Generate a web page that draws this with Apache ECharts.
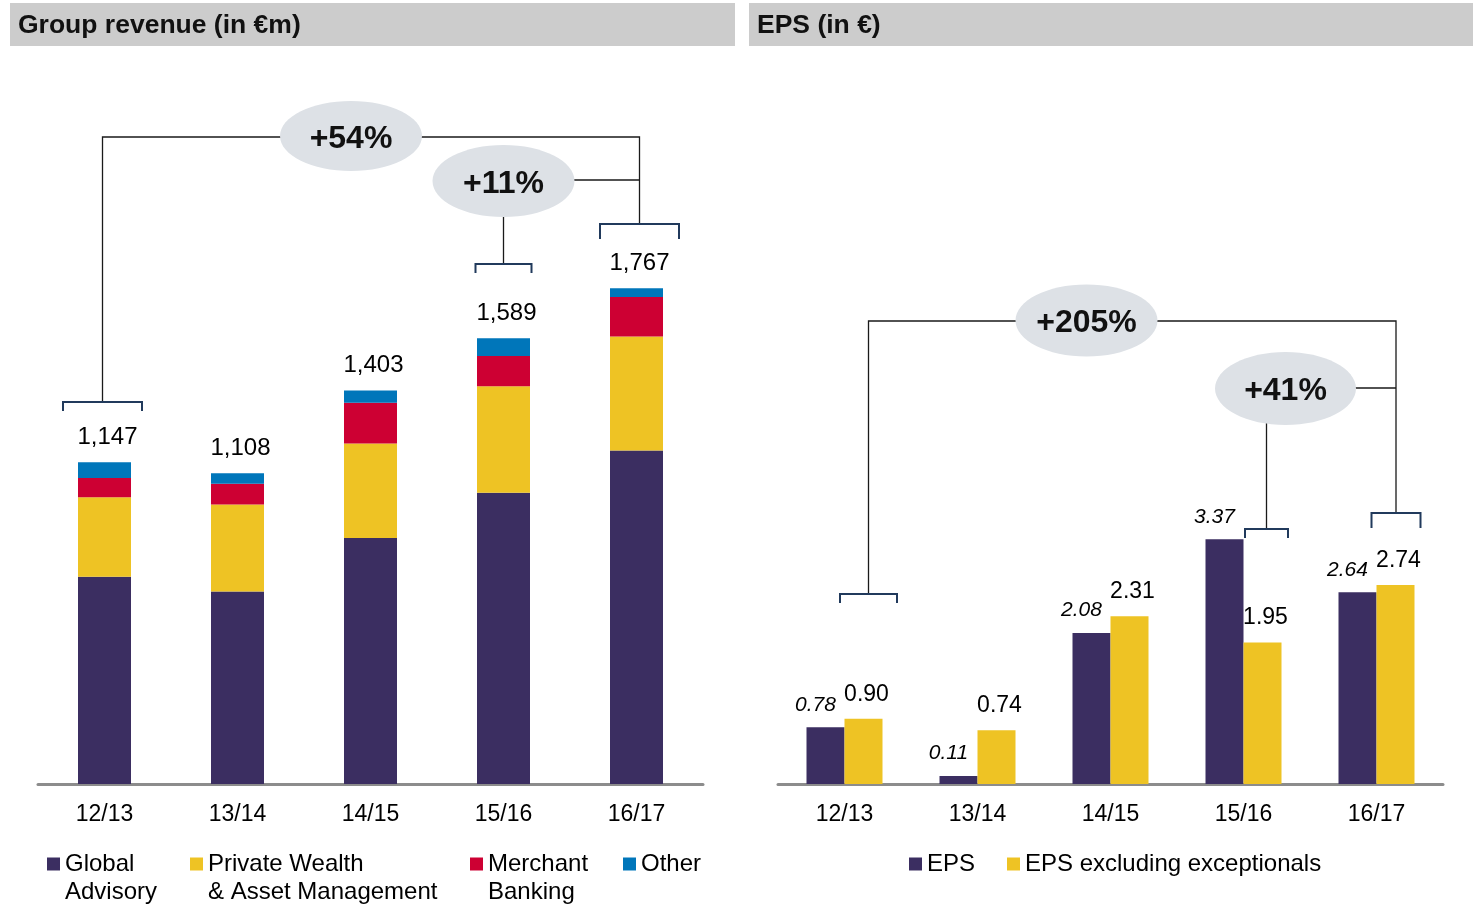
<!DOCTYPE html>
<html>
<head>
<meta charset="utf-8">
<title>Group revenue and EPS</title>
<script src="https://cdn.jsdelivr.net/npm/echarts@6/dist/echarts.min.js"></script>
<style>
html, body { margin: 0; padding: 0; background: #fff; }
#main { width: 1479px; height: 908px; }
</style>
</head>
<body>
<div id="main"></div>
<script>
// data
var years = ['12/13', '13/14', '14/15', '15/16', '16/17'];
var globalAdvisory = [739, 686, 877, 1038, 1189];
var privateWealth = [283, 310, 337, 380, 406];
var merchantBanking = [69, 74, 145, 108, 141];
var otherRevenue = [56, 38, 44, 63, 31];
var revenueTotals = [1147, 1108, 1403, 1589, 1767];
var eps = [0.78, 0.11, 2.08, 3.37, 2.64];
var epsExcl = [0.90, 0.74, 2.31, 1.95, 2.74];
var revenueGrowth = ['+54%', '+11%'];
var epsGrowth = ['+205%', '+41%'];

var FONT = '"Liberation Sans", Arial, sans-serif';
var purple = '#3b2e61', yellow = '#eec324', red = '#cd0033', blue = '#0076ba';

// legend names split over two lines like on the slide
var legendLines = {
    'Global Advisory': ['Global', 'Advisory'],
    'Private Wealth & Asset Management': ['Private Wealth', '& Asset Management'],
    'Merchant Banking': ['Merchant', 'Banking'],
    'Other': ['Other'],
    'EPS': ['EPS'],
    'EPS excluding exceptionals': ['EPS excluding exceptionals']
};
var legendLeft = {
    'Global Advisory': 47,
    'Private Wealth & Asset Management': 190,
    'Merchant Banking': 470,
    'Other': 623,
    'EPS': 909,
    'EPS excluding exceptionals': 1007
};

var chart = echarts.init(document.getElementById('main'));

function legendBox(name) {
    return {
        data: [name],
        left: legendLeft[name],
        top: 850,
        padding: 0,
        icon: 'rect',
        itemWidth: 13,
        itemHeight: 13,
        itemGap: 0,
        selectedMode: false,
        formatter: function(n) { return legendLines[n][0]; },
        textStyle: {
            fontFamily: FONT,
            fontSize: 24,
            color: '#000',
            lineHeight: 28
        }
    };
}

function catAxis(grid) {
    return {
        type: 'category',
        gridIndex: grid,
        data: years,
        axisLine: { lineStyle: { color: '#8c8c8c', width: 3 } },
        axisTick: { show: false },
        axisLabel: { fontFamily: FONT, fontSize: 23, color: '#000', margin: 19 }
    };
}

var option = {
    animation: false,
    grid: [
        { left: 38, width: 665, top: 223, bottom: 124 },
        { left: 778, width: 665, top: 421, bottom: 124 }
    ],
    xAxis: [catAxis(0), catAxis(1)],
    yAxis: [
        { type: 'value', gridIndex: 0, min: 0, max: 2000, show: false },
        { type: 'value', gridIndex: 1, min: 0, max: 5, show: false }
    ],
    legend: Object.keys(legendLines).map(legendBox),
    series: [{
        name: 'Global Advisory',
        type: 'bar',
        stack: 'revenue',
        barWidth: 53,
        data: globalAdvisory,
        itemStyle: { color: purple }
    }, {
        name: 'Private Wealth & Asset Management',
        type: 'bar',
        stack: 'revenue',
        data: privateWealth,
        itemStyle: { color: yellow }
    }, {
        name: 'Merchant Banking',
        type: 'bar',
        stack: 'revenue',
        data: merchantBanking,
        itemStyle: { color: red }
    }, {
        name: 'Other',
        type: 'bar',
        stack: 'revenue',
        data: otherRevenue,
        itemStyle: { color: blue },
        label: {
            show: true,
            position: 'top',
            distance: 13,
            offset: [3, 0],
            fontFamily: FONT,
            fontSize: 24,
            color: '#000',
            formatter: function(p) {
                return revenueTotals[p.dataIndex].toLocaleString('en-US');
            }
        }
    }, {
        name: 'EPS',
        type: 'bar',
        xAxisIndex: 1,
        yAxisIndex: 1,
        barWidth: 38,
        barGap: '0%',
        data: eps,
        itemStyle: { color: purple },
        label: {
            show: true,
            position: 'top',
            distance: 12,
            offset: [-10, 0],
            fontFamily: FONT,
            fontSize: 21,
            fontStyle: 'italic',
            color: '#000',
            formatter: function(p) { return p.value.toFixed(2); }
        }
    }, {
        name: 'EPS excluding exceptionals',
        type: 'bar',
        xAxisIndex: 1,
        yAxisIndex: 1,
        barWidth: 38,
        barGap: '0%',
        data: epsExcl,
        itemStyle: { color: yellow },
        label: {
            show: true,
            position: 'top',
            distance: 13,
            offset: [3, 0],
            fontFamily: FONT,
            fontSize: 23,
            color: '#000',
            formatter: function(p) { return p.value.toFixed(2); }
        }
    }]
};
chart.setOption(option);

// growth brackets, headers, second legend lines
function px(axis, i) {
    return chart.convertToPixel({ xAxisIndex: axis }, i);
}
function bracket(cx, y, hw, leg) {
    return {
        type: 'polyline', z: 20,
        shape: { points: [[cx - hw, y + leg], [cx - hw, y], [cx + hw, y], [cx + hw, y + leg]] },
        style: { stroke: '#213a5c', lineWidth: 2, fill: null }
    };
}
function connector(points) {
    return {
        type: 'polyline', z: 20,
        shape: { points: points },
        style: { stroke: '#1a1a1a', lineWidth: 1.3, fill: null }
    };
}
function label(x, y, text, size, weight, align) {
    return {
        type: 'text', z: 31,
        x: x, y: y,
        style: {
            text: text, fill: '#111',
            fontFamily: FONT, fontSize: size, fontWeight: weight,
            align: align, verticalAlign: 'middle',
            textAlign: align, textVerticalAlign: 'middle'
        }
    };
}
function bubble(cx, cy, rx, ry, text) {
    return [{
        type: 'ellipse', z: 30,
        shape: { cx: cx, cy: cy, rx: rx, ry: ry },
        style: { fill: '#dde1e6' }
    }, label(cx, cy + 3, text, 32, 'bold', 'center')];
}
function header(x, w, text) {
    return [{
        type: 'rect', z: 5,
        shape: { x: x, y: 3, width: w, height: 43 },
        style: { fill: '#cccccc' }
    }, label(x + 8, 26, text, 26.5, 'bold', 'left')];
}

var a0 = px(0, 0) - 2, a3 = px(0, 3), a4 = px(0, 4) + 3;
var b0 = px(1, 0) + 24, b3 = px(1, 3) + 23, b4 = px(1, 4) + 19.5;

var secondLines = [];
Object.keys(legendLines).forEach(function(n) {
    if (legendLines[n].length > 1) {
        var t = label(legendLeft[n] + 18, 892, legendLines[n][1], 24, 'normal', 'left');
        t.style.fill = '#000';
        secondLines.push(t);
    }
});

var elements = [].concat(
    header(10, 725, 'Group revenue (in €m)'),
    header(749, 724, 'EPS (in €)'),
    connector([[a0, 402], [a0, 137], [a4, 137], [a4, 224]]),
    bracket(a0, 402, 39.5, 9),
    bracket(a4, 224, 39.5, 15),
    bubble(351, 136, 71, 35, revenueGrowth[0]),
    connector([[a3, 264], [a3, 180], [a4, 180]]),
    bracket(a3, 264, 28, 9),
    bubble(a3, 181, 71, 36, revenueGrowth[1]),
    connector([[b0, 594], [b0, 321], [b4, 321], [b4, 513]]),
    bracket(b0, 594, 28.5, 9),
    bracket(b4, 513, 24.5, 15),
    bubble(1086.5, 320.5, 71, 36, epsGrowth[0]),
    connector([[b3, 529], [b3, 388], [b4, 388]]),
    bracket(b3, 529, 21.5, 9),
    bubble(1285.5, 388.5, 70.5, 36.5, epsGrowth[1]),
    secondLines
);
chart.setOption({ graphic: elements });

window.addEventListener('resize', chart.resize);
</script>
</body>
</html>
